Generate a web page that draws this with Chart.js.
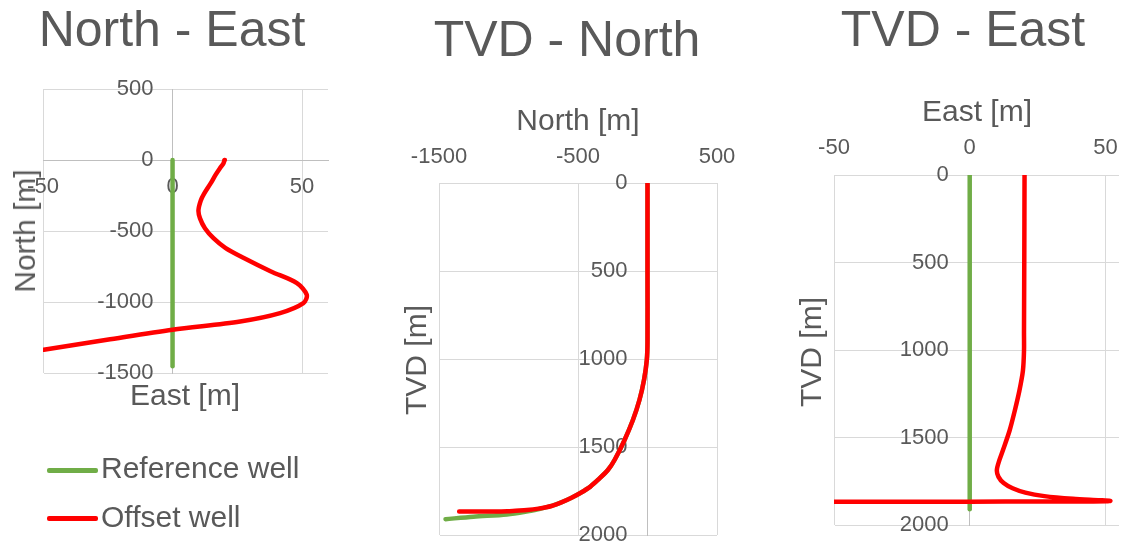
<!DOCTYPE html>
<html>
<head>
<meta charset="utf-8">
<script src="https://cdn.jsdelivr.net/npm/chart.js@4.4.1/dist/chart.umd.min.js"></script>
<style>
  html, body { margin: 0; padding: 0; background: #fff; overflow: hidden; }
  body { width: 1121px; height: 544px; position: relative; font-family: 'Liberation Sans', Arial, sans-serif; color: #595959; }
  canvas { position: absolute; top: 0; }
  .txt { position: absolute; white-space: nowrap; line-height: 1; transform: translate(-50%, -50%); }
  .rot { transform: translate(-50%, -50%) rotate(-90deg); }
  .title { font-size: 50px; }
  .axis { font-size: 30px; }
  .key { position: absolute; left: 47px; width: 51px; height: 4.5px; border-radius: 2px; }
  .keytxt { position: absolute; left: 101px; font-size: 30px; line-height: 1; white-space: nowrap; transform: translateY(-50%); }
</style>
</head>
<body>
<canvas id="ne" width="345" height="544" style="left:0px"></canvas>
<canvas id="tn" width="360" height="544" style="left:380px"></canvas>
<canvas id="te" width="341" height="544" style="left:780px"></canvas>

<div class="txt title" style="left:172px; top:29px">North - East</div>
<div class="txt title" style="left:567px; top:39px">TVD - North</div>
<div class="txt title" style="left:963px; top:29px">TVD - East</div>

<div class="txt axis rot" style="left:25px; top:231px">North [m]</div>
<div class="txt axis" style="left:185px; top:395px">East [m]</div>
<div class="txt axis" style="left:578px; top:120px">North [m]</div>
<div class="txt axis rot" style="left:416px; top:360px">TVD [m]</div>
<div class="txt axis" style="left:977px; top:111px">East [m]</div>
<div class="txt axis rot" style="left:811px; top:352px">TVD [m]</div>

<div class="key" style="top:468px; background:#70ad47"></div>
<div class="keytxt" style="top:468px">Reference well</div>
<div class="key" style="top:516px; background:#ff0000"></div>
<div class="keytxt" style="top:517px">Offset well</div>

<script>
// offset well survey
const offTvd   = [0, 500, 900, 1006, 1119, 1233, 1347, 1460, 1574, 1631, 1686, 1725, 1760, 1790, 1815, 1835, 1850, 1858, 1862, 1865, 1866, 1866, 1866.5, 1866.5, 1867, 1867];
const offNorth = [0, 0, 0, -5, -25, -58, -105, -165, -237, -285, -355, -411, -480, -550, -620, -690, -785, -867, -949, -1008, -1078, -1137, -1195, -1266, -1336, -1355];
const offEast  = [20.2, 20.1, 20.0, 20.0, 19.6, 18.3, 16.6, 14.7, 12.2, 10.9, 10.0, 10.6, 12.5, 15.8, 20.5, 27.5, 38.0, 48.0, 51.8, 50.5, 41.5, 26.1, 0, -25.3, -49.7, -56];

// reference well survey
const refTvd   = [0, 500, 900, 1006, 1119, 1233, 1347, 1460, 1574, 1631, 1686, 1725, 1760, 1790, 1815, 1835, 1852, 1868, 1883, 1896, 1910];
const refNorth = [0, 0, 0, -5, -25, -58, -105, -165, -237, -285, -355, -411, -480, -550, -620, -690, -780, -880, -1012, -1252, -1453];
const refEast  = [0, 0, 0, 0, 0, 0, 0, 0, 0, 0, 0, 0, 0, 0, 0, 0, 0, 0, 0, 0, 0];

// tick labels
const eastTicks = [-50, 0, 50];
const northTicksNE = [500, 0, -500, -1000, -1500];
const northTicksTN = [-1500, -500, 500];
const tvdTicks = [0, 500, 1000, 1500, 2000];

const GRID = '#d9d9d9';
const AXIS = '#bfbfbf';
const TXT = '#595959';
const RED = '#ff0000';
const GREEN = '#70ad47';
const tickFont = { family: "'Liberation Sans', Arial, sans-serif", size: 22 };

// moves the vertical axis (line + labels) onto x = 0
const axisAtZero = {
  id: 'axisAtZero',
  afterLayout(chart) {
    const x0 = chart.scales.x.getPixelForValue(0);
    const y = chart.scales.y;
    y.left = x0 - 150;
    y.right = x0;
    y.width = 150;
  }
};

function pairs(xs, ys) {
  return xs.map((x, i) => ({ x: x, y: ys[i] }));
}

function wellSet(label, data, color, order) {
  return {
    label, data, order,
    showLine: true,
    borderColor: color,
    backgroundColor: color,
    borderWidth: 4.5,
    pointRadius: 0,
    tension: 0.3,
    borderCapStyle: 'round',
    borderJoinStyle: 'round'
  };
}

function axis(min, max, position, values, pad, opt) {
  opt = opt || {};
  return {
    type: 'linear', min, max, position,
    reverse: !!opt.reverse,
    afterBuildTicks: s => { s.ticks = values.map(v => ({ value: v })); },
    afterFit: s => {
      s.paddingLeft = s.paddingRight = s.paddingTop = s.paddingBottom = 0;
      if (opt.height) s.height = opt.height;
      if (opt.flat) s.width = 0;
    },
    grid: { color: GRID, lineWidth: 1, drawTicks: false },
    border: { display: opt.border !== false, color: AXIS, width: 1 },
    ticks: { padding: pad, color: TXT, font: tickFont, maxRotation: 0, autoSkip: false, callback: v => String(v) }
  };
}

function options(padding, scales) {
  return {
    responsive: false,
    animation: false,
    events: [],
    layout: { padding },
    plugins: { legend: { display: false }, tooltip: { enabled: false }, title: { display: false } },
    scales
  };
}

// North - East
new Chart(document.getElementById('ne'), {
  type: 'scatter',
  data: { datasets: [
    wellSet('Offset well', pairs(offEast, offNorth), RED, 0),
    wellSet('Reference well', pairs(refEast, refNorth), GREEN, 1)
  ] },
  options: options({ left: 43, right: 17, top: 89, bottom: 171 }, {
    x: axis(-50, 60, { y: 0 }, eastTicks, 14),
    y: axis(-1500, 500, 'left', northTicksNE, 19, { flat: true })
  }),
  plugins: [axisAtZero]
});

// TVD - North
new Chart(document.getElementById('tn'), {
  type: 'scatter',
  data: { datasets: [
    wellSet('Offset well', pairs(offNorth, offTvd), RED, 0),
    wellSet('Reference well', pairs(refNorth, refTvd), GREEN, 1)
  ] },
  options: options({ left: 59, right: 23, top: 133, bottom: 9 }, {
    x: axis(-1500, 500, 'top', northTicksTN, 13, { height: 50, border: false }),
    y: axis(0, 2000, 'left', tvdTicks, 20, { reverse: true, flat: true })
  }),
  plugins: [axisAtZero]
});

// TVD - East
new Chart(document.getElementById('te'), {
  type: 'scatter',
  data: { datasets: [
    wellSet('Offset well', pairs(offEast, offTvd), RED, 0),
    wellSet('Reference well', pairs(refEast, refTvd), GREEN, 1)
  ] },
  options: options({ left: 54, right: 2, top: 125, bottom: 19 }, {
    x: axis(-50, 55, 'top', eastTicks, 14, { height: 50, border: false }),
    y: axis(0, 2000, 'left', tvdTicks, 21, { reverse: true, flat: true })
  }),
  plugins: [axisAtZero]
});
</script>
</body>
</html>
